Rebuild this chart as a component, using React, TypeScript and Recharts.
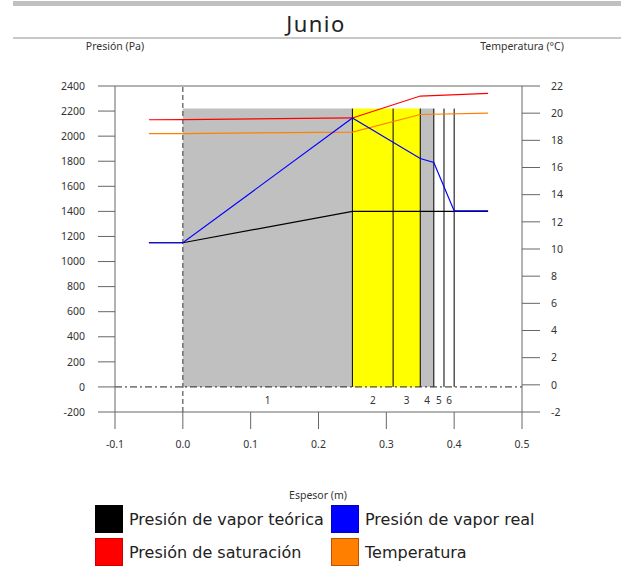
import React from 'react';
import {
  ComposedChart,
  Line,
  XAxis,
  YAxis,
  ReferenceArea,
  ReferenceLine,
  ReferenceDot
} from 'recharts';

// axis ticks
const X_TICKS = [-0.1, 0, 0.1, 0.2, 0.3, 0.4, 0.5];
const P_TICKS = [-200, 0, 200, 400, 600, 800, 1000, 1200, 1400, 1600, 1800, 2000, 2200, 2400];
const T_TICKS = [-2, 0, 2, 4, 6, 8, 10, 12, 14, 16, 18, 20, 22];

// wall layers (m)
const LAYER_EDGES = [0, 0.25, 0.31, 0.35, 0.37, 0.385, 0.4];
const LAYER_NAMES = ['1', '2', '3', '4', '5', '6'];
const LAYER_FILLS = ['#c0c0c0', '#ffff00', '#ffff00', '#c0c0c0', '', ''];
const BLOCK_TOP = 2220;

// series
const THEO_X = [-0.05, 0, 0.25, 0.45];
const THEO_PA = [1150, 1150, 1400, 1400];
const REAL_X = [-0.05, 0, 0.25, 0.35, 0.37, 0.4, 0.45];
const REAL_PA = [1150, 1150, 2145, 1822, 1790, 1404, 1404];
const SAT_X = [-0.05, 0, 0.25, 0.35, 0.45];
const SAT_PA = [2131, 2132, 2145, 2320, 2341];
const TEMP_X = [-0.05, 0, 0.25, 0.35, 0.45];
const TEMP_C = [18.5, 18.5, 18.6, 19.9, 20.0];

const LEGEND = [
  { name: 'Presión de vapor teórica', color: '#000000', border: '#000000' },
  { name: 'Presión de vapor real', color: '#0000ff', border: '#0000cc' },
  { name: 'Presión de saturación', color: '#ff0000', border: '#cc0000' },
  { name: 'Temperatura', color: '#ff8000', border: '#c05000' }
];

const toPoints = (xs: number[], ys: number[]) => xs.map((x, i) => ({ x, y: ys[i] }));

const tickFont = { fontFamily: '"Noto Sans", sans-serif', fontSize: 10.5, fill: '#333' };
const AXIS = '#666';

export default function App() {
  const layers = LAYER_NAMES.map((name, i) => ({
    name,
    x1: LAYER_EDGES[i],
    x2: LAYER_EDGES[i + 1] ?? LAYER_EDGES[i],
    fill: LAYER_FILLS[i]
  }));
  // last layer ends at the final edge
  const mids = LAYER_NAMES.map((_, i) =>
    i < LAYER_EDGES.length - 1 ? (LAYER_EDGES[i] + LAYER_EDGES[i + 1]) / 2 : LAYER_EDGES[i]
  );

  return (
    <div style={{ position: 'absolute', left: 0, top: 0, width: 621, height: 579, background: '#fff', fontFamily: '"Noto Sans", sans-serif' }}>
      {/* header */}
      <div style={{ position: 'absolute', left: 13, top: 1, width: 608, height: 5, background: '#c0c0c0' }} />
      <div style={{ position: 'absolute', left: 0, width: 632, top: 9, textAlign: 'center', fontSize: 22, letterSpacing: 1.5, color: '#222', lineHeight: '28px' }}>
        Junio
      </div>
      <div style={{ position: 'absolute', left: 13, top: 37, width: 608, height: 2, background: '#c8c8c8' }} />
      <div style={{ position: 'absolute', left: 65, width: 100, top: 39, textAlign: 'center', fontSize: 10.5, color: '#333', lineHeight: '14px' }}>
        Presión (Pa)
      </div>
      <div style={{ position: 'absolute', left: 462, width: 120, top: 39, textAlign: 'center', fontSize: 10.5, color: '#333', lineHeight: '14px' }}>
        Temperatura (°C)
      </div>

      <div style={{ position: 'absolute', left: 0, top: 0 }}>
        <ComposedChart width={621} height={470} margin={{ top: 86, right: 39, bottom: 18, left: 55 }}>
          <XAxis
            dataKey="x"
            type="number"
            domain={[-0.1, 0.5]}
            ticks={X_TICKS}
            interval={0}
            allowDataOverflow
            tickFormatter={(v: number) => v.toFixed(1)}
            tick={tickFont}
            tickSize={17}
            tickMargin={12}
            height={40}
            axisLine={{ stroke: AXIS }}
            tickLine={{ stroke: AXIS }}
          />
          <YAxis
            yAxisId="p"
            type="number"
            domain={[-200, 2400]}
            ticks={P_TICKS}
            interval={0}
            allowDataOverflow
            tick={tickFont}
            tickSize={17}
            tickMargin={13}
            width={60}
            axisLine={{ stroke: AXIS }}
            tickLine={{ stroke: AXIS }}
          />
          <YAxis
            yAxisId="t"
            orientation="right"
            type="number"
            domain={[-2, 22]}
            ticks={T_TICKS}
            interval={0}
            allowDataOverflow
            tick={tickFont}
            tickSize={18}
            tickMargin={11}
            width={60}
            axisLine={{ stroke: AXIS }}
            tickLine={{ stroke: AXIS }}
          />

          {layers.filter((l) => l.fill).map((l) => (
            <ReferenceArea
              key={'a' + l.name}
              yAxisId="p"
              x1={l.x1}
              x2={l.x2}
              y1={0}
              y2={BLOCK_TOP}
              fill={l.fill}
              fillOpacity={1}
              stroke="none"
            />
          ))}
          {LAYER_EDGES.slice(1).map((e) => (
            <ReferenceLine
              key={'e' + e}
              yAxisId="p"
              segment={[{ x: e, y: 0 }, { x: e, y: BLOCK_TOP }]}
              stroke="#000"
              strokeWidth={1}
            />
          ))}
          <ReferenceLine yAxisId="p" x={0} stroke="#555" strokeDasharray="5 3" strokeWidth={1.2} />
          <ReferenceLine yAxisId="p" y={0} stroke="#222" strokeDasharray="7 3 2 3" strokeWidth={1} />
          <ReferenceLine yAxisId="p" y={2400} stroke={AXIS} strokeWidth={1} />

          {LAYER_NAMES.map((n, i) => (
            <ReferenceDot
              key={'l' + n}
              yAxisId="p"
              x={mids[i]}
              y={-110}
              r={0}
              fill="none"
              stroke="none"
              label={{ value: n, position: 'center', fontSize: 10, fill: '#333', fontFamily: '"Noto Sans", sans-serif' }}
            />
          ))}

          <Line yAxisId="p" data={toPoints(THEO_X, THEO_PA)} dataKey="y" type="linear" stroke="#000" strokeWidth={1.2} dot={false} isAnimationActive={false} />
          <Line yAxisId="t" data={toPoints(TEMP_X, TEMP_C)} dataKey="y" type="linear" stroke="#ff8000" strokeWidth={1.2} dot={false} isAnimationActive={false} />
          <Line yAxisId="p" data={toPoints(SAT_X, SAT_PA)} dataKey="y" type="linear" stroke="#ff0000" strokeWidth={1.2} dot={false} isAnimationActive={false} />
          <Line yAxisId="p" data={toPoints(REAL_X, REAL_PA)} dataKey="y" type="linear" stroke="#0000ff" strokeWidth={1.2} dot={false} isAnimationActive={false} />
        </ComposedChart>
      </div>

      {/* x axis title + legend */}
      <div style={{ position: 'absolute', left: 268, width: 100, top: 488, textAlign: 'center', fontSize: 10.5, color: '#333', lineHeight: '14px' }}>
        Espesor (m)
      </div>
      {LEGEND.map((item, i) => {
        const col = i % 2;
        const row = Math.floor(i / 2);
        const left = col === 0 ? 95 : 331;
        const top = 505 + row * 33;
        return (
          <div key={item.name} style={{ position: 'absolute', left, top, display: 'flex', alignItems: 'center', height: 28 }}>
            <div style={{ width: 26, height: 26, background: item.color, border: `1px solid ${item.border}` }} />
            <span style={{ marginLeft: 6, fontFamily: '"DejaVu Sans", sans-serif', fontSize: 16, color: '#222', whiteSpace: 'nowrap' }}>
              {item.name}
            </span>
          </div>
        );
      })}
    </div>
  );
}
